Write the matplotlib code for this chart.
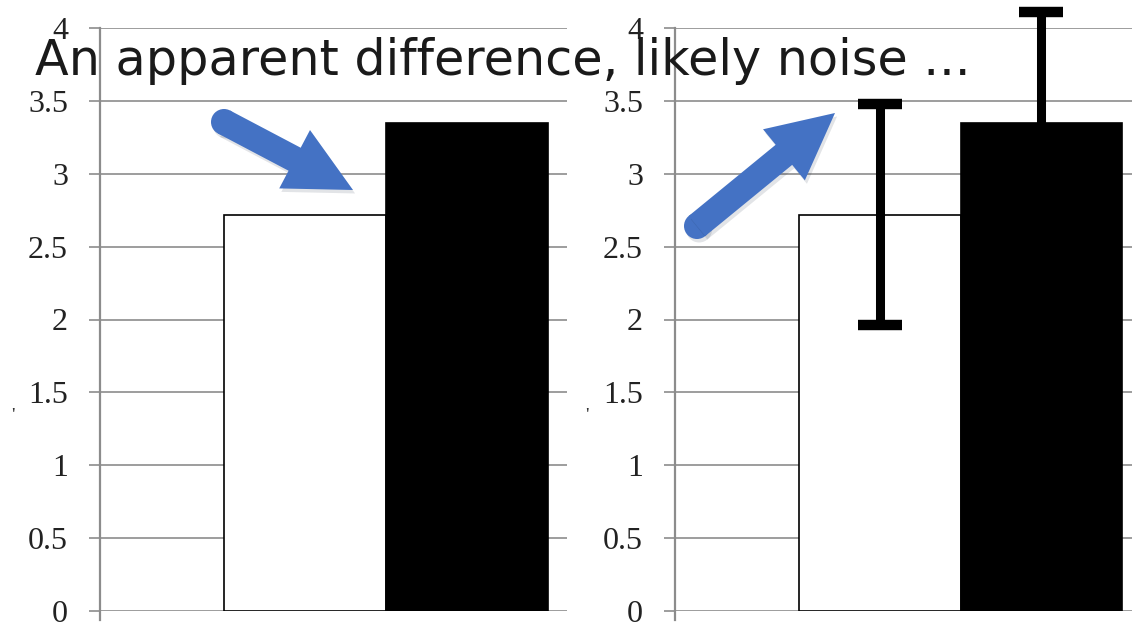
import matplotlib
matplotlib.use('Agg')
import matplotlib.pyplot as plt
import matplotlib.patheffects as pe
from matplotlib.patches import FancyArrow, Circle

# Two groups, same means in both panels; the right panel adds the error bars.
groups = ['control', 'treatment']
means = [2.72, 3.35]
errors = [0.76, 0.76]
bar_colors = ['white', 'black']
y_ticks = [0, 0.5, 1, 1.5, 2, 2.5, 3, 3.5, 4]
y_tick_labels = ['0', '0.5', '1', '1.5', '2', '2.5', '3', '3.5', '4']
title_text = 'An apparent difference, likely noise ...'

W, H = 1132, 627
fig = plt.figure(figsize=(W / 100, H / 100), dpi=100)
fig.patch.set_facecolor('white')

GRID = '#8c8c8c'
BLUE = '#4472c4'


def draw_panel(ax, xlim, with_err):
    xs = [0.5, 1.5]
    ax.bar(xs, means, width=1.0, color=bar_colors, edgecolor='black',
           linewidth=1.2, zorder=3)
    if with_err:
        ax.errorbar(xs, means, yerr=errors, fmt='none', ecolor='black',
                    elinewidth=6.5, capsize=16, capthick=7.5, zorder=4,
                    clip_on=False)
    ax.set_xlim(*xlim)
    ax.set_ylim(0, 4)
    ax.set_yticks(y_ticks)
    ax.set_yticklabels(y_tick_labels, family='Liberation Serif', fontsize=23,
                       color='#222222')
    ax.tick_params(axis='y', length=8, width=1.2, color=GRID, pad=15)
    ax.set_xticks([])
    ax.yaxis.grid(True, color=GRID, linewidth=1.2, zorder=0)
    ax.set_axisbelow(True)
    for s in ['top', 'right', 'bottom']:
        ax.spines[s].set_visible(False)
    ax.spines['left'].set_color(GRID)
    ax.spines['left'].set_linewidth(1.6)
    ax.spines['left'].set_bounds(-0.06, 4)
    ax.patch.set_alpha(0)


ax1 = fig.add_axes([100 / W, 16 / H, 467 / W, 583 / H])
draw_panel(ax1, (-0.765, 2.117), False)
ax2 = fig.add_axes([675 / W, 16 / H, 457 / W, 583 / H])
draw_panel(ax2, (-0.77, 2.062), True)

# overlay in pixel units for the slide annotations
ov = fig.add_axes([0, 0, 1, 1], zorder=10)
ov.set_xlim(0, W)
ov.set_ylim(H, 0)
ov.axis('off')
ov.patch.set_alpha(0)

shadow = [pe.SimplePatchShadow(offset=(1.5, -2.5), alpha=0.12), pe.Normal()]


def arrow(x0, y0, x1, y1):
    c = Circle((x0, y0), 13, color=BLUE, linewidth=0)
    c.set_path_effects(shadow)
    ov.add_patch(c)
    a = FancyArrow(x0, y0, x1 - x0, y1 - y0, width=26, head_width=66,
                   head_length=66, length_includes_head=True,
                   color=BLUE, linewidth=0)
    a.set_path_effects(shadow)
    ov.add_patch(a)


arrow(224, 122, 353, 190)
arrow(697, 226, 835, 113)

ov.text(35, 75, title_text, family='DejaVu Sans', fontsize=35.5,
        color='#1a1a1a', ha='left', va='baseline')

# clipped remnants of the y axis titles
ov.text(13, 417, "'", family='Liberation Serif', fontsize=14, color='#333333',
        ha='center', va='center')
ov.text(587, 417, "'", family='Liberation Serif', fontsize=14, color='#333333',
        ha='center', va='center')

fig.savefig('out.png', dpi=100)
